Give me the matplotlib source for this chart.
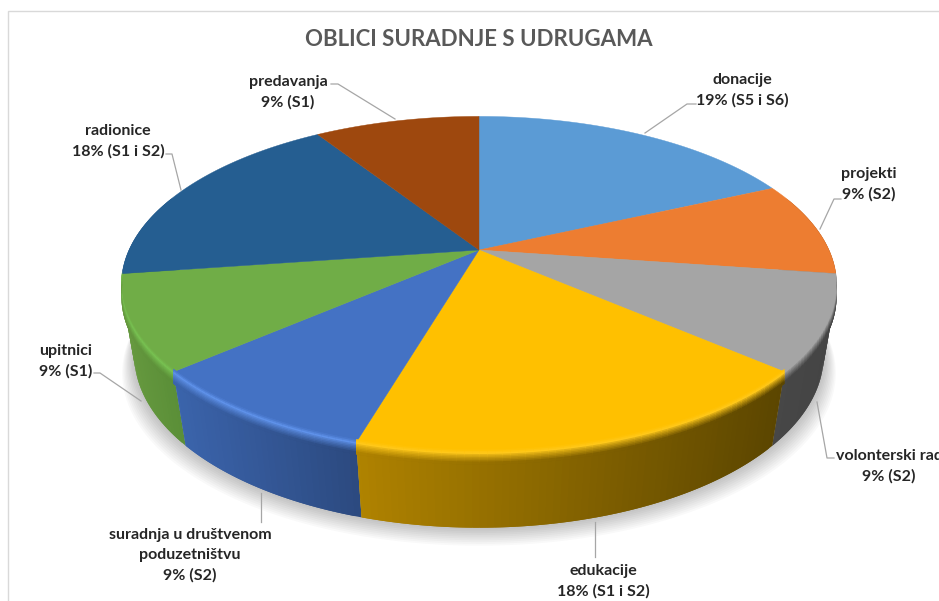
#!/usr/bin/env python3
"""Oblici suradnje s udrugama: 3D pie drawn with a perspective projection."""

import matplotlib
matplotlib.use("Agg")
import matplotlib.pyplot as plt
import numpy as np
from matplotlib.collections import PolyCollection
from matplotlib.colors import to_rgb
from matplotlib.patches import Rectangle

CATEGORIES = ["donacije", "projekti", "volonterski rad", "edukacije",
              "suradnja u društvenom\npoduzetništvu", "upitnici", "radionice", "predavanja"]
SHARES = [18.2, 9.1, 9.1, 18.2, 9.1, 9.1, 18.2, 9.1]
SHOWN = ["19% (S5 i S6)", "9% (S2)", "9% (S2)", "18% (S1 i S2)",
         "9% (S2)", "9% (S1)", "18% (S1 i S2)", "9% (S1)"]

TOP_COLORS = ["#5b9bd5", "#ed7d31", "#a5a5a5", "#ffc000",
              "#4472c4", "#70ad47", "#255e91", "#9e480e"]
RIM_COLORS = ["#5b9bd5", "#ed7d31", "#a5a5a5", "#ffc81a",
              "#5f92ea", "#78c252", "#2a70ab", "#9e480e"]
WALL_LEFT = ["#5b9bd5", "#8a4a1c", "#474747", "#b08300",
             "#3b64ac", "#66993f", "#1f5280", "#9e480e"]
WALL_RIGHT = ["#5b9bd5", "#8a4a1c", "#444444", "#5c4600",
              "#2c4a80", "#5b8f38", "#1f5280", "#9e480e"]

# label centre (px) and leader polyline (px)
LABEL_POS = [(742, 90), (869, 184), (889, 466), (603, 581),
             (190, 555), (66, 361), (118, 141), (288, 92)]
LEADERS = [[(645, 133), (687, 104), (696, 104)],
           [(820, 229), (834, 199), (841, 199)],
           [(817, 402), (827, 458), (834, 458)],
           [(595, 522), (595, 557)],
           [(261, 493), (261, 522)],
           [(141, 401), (100, 373), (94, 373)],
           [(181, 190), (172, 154), (166, 154)],
           [(395, 119), (338, 84), (331, 84)]]

# top and bottom circle of the pie: centre y, half axes, perspective factor
CX = 479
TOP = dict(cy=250, rx=350, sy=161, k=0.205)
BOTTOM = dict(cy=321, rx=338, sy=166, k=0.197)
WALL_FROM, WALL_TO = 70, 290
RIM_FROM, RIM_TO = 99, 261
RIM_PX = 12
RIM_BANDS = np.linspace(-3, RIM_PX, 11)


def project(theta, c, dy=0.0):
    """Pie angle (deg, clockwise from 12 o'clock) to picture pixels."""
    t = np.radians(theta)
    x, y = np.sin(t), np.cos(t)
    w = 1 + c["k"] * y
    return CX + c["rx"] * x / w, c["cy"] - c["sy"] * y / w + dy


def lerp(a, b, t):
    return tuple((1 - t) * p + t * q for p, q in zip(a, b))


def rim_color(u, top_c, rim_c, wall):
    """Rounded edge: top colour, highlight, then the wall colour."""
    if u < 0.25:
        return lerp(top_c, rim_c, u / 0.25)
    return lerp(rim_c, wall, min((u - 0.25) / 0.6, 1) ** 0.8)


def draw_shadow(ax):
    th = np.linspace(0, 360, 361)
    for i in range(10, 0, -1):
        x, y = project(th, BOTTOM, dy=1.8 * i)
        x = CX + (x - CX) * (1 + 0.0035 * i)
        ax.fill(x, y, color="black", alpha=0.022, lw=0, zorder=1)


def draw_walls(ax, edges):
    # far slices first, the ones facing the viewer last
    order = [6, 1, 5, 2, 4, 3]
    for n, i in enumerate(order):
        lo, hi = max(edges[i], WALL_FROM), min(edges[i + 1], WALL_TO)
        th = np.arange(lo, hi + 1, 1.0)
        th[-1] = hi
        xt, yt = project(th, TOP)
        xb, yb = project(th, BOTTOM)
        left, right = to_rgb(WALL_LEFT[i]), to_rgb(WALL_RIGHT[i])
        top_c, rim_c = to_rgb(TOP_COLORS[i]), to_rgb(RIM_COLORS[i])
        span = max(xt.max() - xt.min(), 1)

        body, body_c, rim, rim_c_list = [], [], [], []
        for j in range(len(th) - 1):
            # quads overlap the next step so no seams show through
            e = min(j + 2, len(th) - 1)
            wall = lerp(left, right, (xt[j] - xt.min()) / span)
            body.append([(xt[j], yt[j]), (xt[e], yt[e]), (xb[e], yb[e]), (xb[j], yb[j])])
            body_c.append(wall)
            if not RIM_FROM <= th[j] <= RIM_TO:
                continue
            for b in range(len(RIM_BANDS) - 1):
                a0, a1 = RIM_BANDS[b], RIM_BANDS[min(b + 2, len(RIM_BANDS) - 1)]
                u = (0.5 * (RIM_BANDS[b] + RIM_BANDS[b + 1]) + 3) / (RIM_PX + 3)
                rim.append([(xt[j], yt[j] + a0), (xt[e], yt[e] + a0),
                            (xt[e], yt[e] + a1), (xt[j], yt[j] + a1)])
                rim_c_list.append(rim_color(u, top_c, rim_c, wall))

        ax.add_collection(PolyCollection(body, facecolors=body_c, edgecolors="none",
                                         zorder=2 + n * 0.01))
        if rim:
            ax.add_collection(PolyCollection(rim, facecolors=rim_c_list, edgecolors="none",
                                             zorder=4 + n * 0.01))


def draw_top(ax, edges):
    for i, color in enumerate(TOP_COLORS):
        th = np.linspace(edges[i], edges[i + 1], 200)
        x, y = project(th, TOP)
        ax.fill(np.r_[CX, x], np.r_[TOP["cy"], y], color=color, ec=color, lw=0.3, zorder=3)


def draw_labels(ax):
    for name, shown, pos in zip(CATEGORIES, SHOWN, LABEL_POS):
        ax.text(pos[0], pos[1], f"{name}\n{shown}", ha="center", va="center",
                fontsize=11.5, fontweight="bold", color="#262626", linespacing=1.52,
                zorder=6, clip_on=False)
    for pts in LEADERS:
        xs, ys = zip(*pts)
        ax.plot(xs, ys, color="#a6a6a6", lw=0.9, zorder=5)


def main():
    plt.rcParams["font.family"] = ["Lato", "DejaVu Sans"]
    fig = plt.figure(figsize=(9.39, 6.01), dpi=100)
    ax = fig.add_axes([0, 0, 1, 1])
    ax.set_xlim(0, 939)
    ax.set_ylim(601, 0)
    ax.axis("off")

    edges = np.r_[0, np.cumsum(SHARES)] / np.sum(SHARES) * 360

    ax.add_patch(Rectangle((8, 11), 1200, 1200, fc="white", ec="#d9d9d9", lw=1, zorder=0))
    draw_shadow(ax)
    draw_walls(ax, edges)
    draw_top(ax, edges)
    draw_labels(ax)
    ax.text(479, 39, "OBLICI SURADNJE S UDRUGAMA", ha="center", va="center",
            fontsize=16, fontweight="bold", color="#595959")

    fig.savefig("out.png", dpi=100)
    plt.close(fig)


if __name__ == "__main__":
    main()
